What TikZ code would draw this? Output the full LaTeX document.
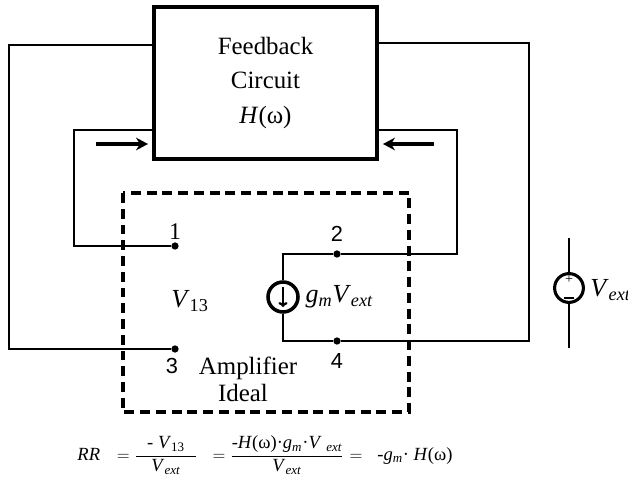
\documentclass[tikz,border=0pt]{standalone}
\usepackage{fontspec}
\setmainfont{Liberation Serif}
\newfontfamily\digitfont{Liberation Sans}
\usetikzlibrary{positioning,calc,arrows.meta}

\newcommand{\Vext}{\textit{V}\textsubscript{\textit{ext}}}
\newcommand{\gmsub}{\textit{g}\textsubscript{\textit{m}}}
\newcommand{\Hw}{\textit{H}(ω)}

\tikzset{
	wire/.style={line width=1.1pt},
	fbbox/.style={draw, line width=3pt, minimum width=5.575cm, minimum height=3.8cm, align=center,
		font=\fontsize{17.7}{24.5}\selectfont},
	ampbox/.style={line width=2.2pt, dash pattern=on 7pt off 4.2pt},
	term/.style={circle, fill, inner sep=0pt, minimum size=5.2pt},
	flow/.style={line width=2.4pt, -{Stealth[length=8.5pt,width=9pt]}},
	isrc/.style={circle, draw, line width=2.5pt, minimum size=0.75cm, inner sep=0pt},
	vsrc/.style={circle, draw, line width=2.2pt, minimum size=0.72cm, inner sep=0pt},
	lbl/.style={font=\fontsize{17.7}{20}\selectfont, inner sep=1pt},
	var/.style={font=\fontsize{18.5}{21}\selectfont, inner sep=1pt},
	digit/.style={font=\digitfont\fontsize{15.5}{17}\selectfont, inner sep=1pt},
	eqn/.style={font=\fontsize{13.2}{15}\selectfont, inner sep=0pt},
}

\begin{document}
\begin{tikzpicture}[x=0.025cm, y=-0.025cm]
	\useasboundingbox (0,0) rectangle (628,492);

	% feedback network
	\node[fbbox] (fb) at (265.5,83) {Feedback\\Circuit\\\Hw};

	% ideal amplifier
	\draw[ampbox] (123,193) rectangle (409,412);
	\node[term] (t1) at (175,246) {};
	\node[term] (t3) at (175,349) {};
	\node[term] (t2) at (337,254) {};
	\node[term] (t4) at (337,341) {};
	\node[isrc] (gm) at (283,297) {};
	\draw[line width=1.6pt, -{To[length=3.5pt,width=6.5pt]}] ($(gm)+(0,-10)$) -- ($(gm)+(0,10)$);

	\node[digit] (l1) at (175,232) {\rmfamily\fontsize{17}{18}\selectfont 1};
	\node[digit] (l2) at (337,234) {2};
	\node[digit] (l3) at (172,366) {3};
	\node[digit] (l4) at (337,361) {4};
	\node[var] (v13) at (190,301) {\textit{V}\textsubscript{13}};
	\node[var, right=3pt of gm] (gmv) {\gmsub\Vext};
	\node[lbl] (amp) at (248,368) {Amplifier};
	\node[lbl] (ideal) at (243,393) {Ideal};

	% wires
	\coordinate (olt) at (9,45);
	\coordinate (ilt) at (74,130);
	\coordinate (ort) at (529,43);
	\coordinate (irt) at (457,130);
	\draw[wire] (olt -| fb.west) -- (olt) |- (t3);
	\draw[wire] (ilt -| fb.west) -- (ilt) |- (t1);
	\draw[wire] (ort -| fb.east) -- (ort) |- (t4);
	\draw[wire] (irt -| fb.east) -- (irt) |- (t2);
	\draw[wire] (gm.north) -- (gm.north |- t2) -- (t2);
	\draw[wire] (gm.south) -- (gm.south |- t4) -- (t4);

	% direction arrows
	\coordinate (la0) at (96,144);
	\coordinate (la1) at (148,144);
	\coordinate (ra0) at (434,144);
	\coordinate (ra1) at (383,144);
	\draw[flow] (la0) -- (la1);
	\draw[flow] (ra0) -- (ra1);

	% external source
	\node[vsrc] (vs) at (569,288) {};
	\coordinate (vtop) at (569,238);
	\coordinate (vbot) at (569,348);
	\draw[wire] (vtop) -- (vs.north);
	\draw[wire] (vs.south) -- (vbot);
	\node[font=\fontsize{10}{10}\selectfont, inner sep=0pt] (vplus) at (569,280) {+};
	\draw[line width=1.8pt] (564,298) -- (574,298);
	\node[var, anchor=west, inner sep=0pt] (vx) at (590,290) {\Vext};

	% return ratio
	\node[eqn] (rr) at (265,455) {\textit{RR}\hspace{0.9em}%
		$=\displaystyle\frac{\mbox{\hspace{0.6em}- \textit{V}\textsubscript{13}\hspace{0.6em}}}{\mbox{\Vext}}$\hspace{0.8em}%
		$=\displaystyle\frac{\mbox{-\Hw·\gmsub·\textit{V} \textsubscript{\textit{ext}}}}{\mbox{\Vext}}$\hspace{0.3em}%
		$=$\hspace{0.8em}-\gmsub· \Hw};
\end{tikzpicture}
\end{document}
